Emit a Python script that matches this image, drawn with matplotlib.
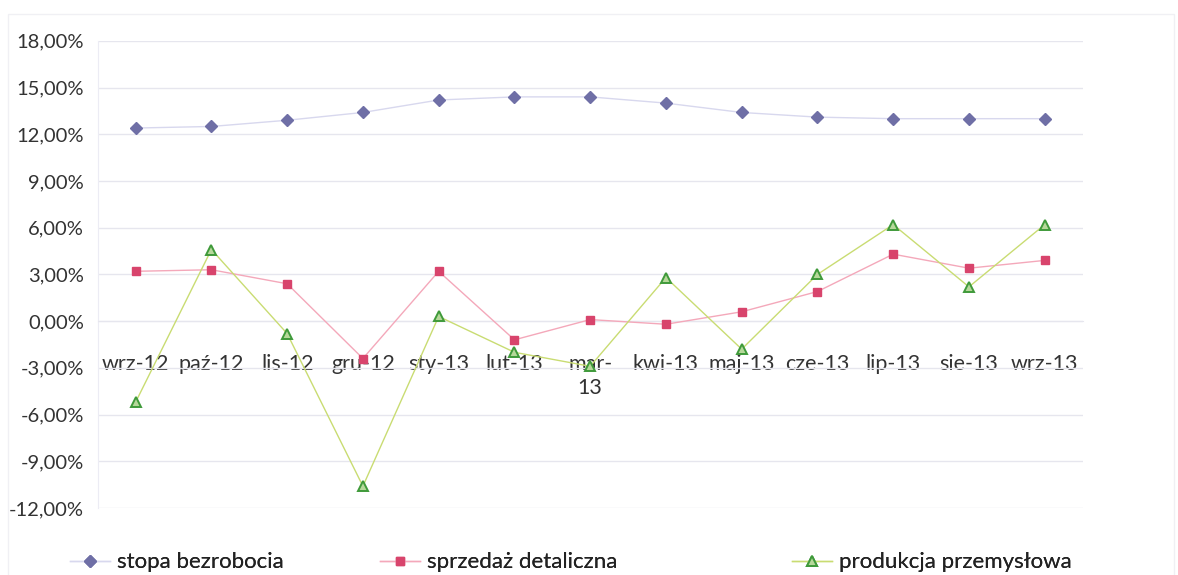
import matplotlib.pyplot as plt
from matplotlib.ticker import FuncFormatter, MultipleLocator
from matplotlib.patches import Rectangle

months = ["wrz-12", "paź-12", "lis-12", "gru-12", "sty-13", "lut-13", "mar-\n13",
          "kwi-13", "maj-13", "cze-13", "lip-13", "sie-13", "wrz-13"]
stopa_bezrobocia = [12.4, 12.5, 12.9, 13.4, 14.2, 14.4, 14.4, 14.0, 13.4, 13.1, 13.0, 13.0, 13.0]
sprzedaz_detaliczna = [3.2, 3.3, 2.4, -2.4, 3.2, -1.2, 0.1, -0.2, 0.6, 1.9, 4.3, 3.4, 3.9]
produkcja_przemyslowa = [-5.2, 4.6, -0.8, -10.6, 0.3, -2.0, -2.9, 2.8, -1.8, 3.0, 6.2, 2.2, 6.2]

plt.rcParams["font.family"] = ["Lato", "DejaVu Sans"]

fig = plt.figure(figsize=(11.78, 5.75), dpi=100)
ax = fig.add_axes([0.083, 0.1165, 0.836, 0.8125])

x = range(len(months))
l1, = ax.plot(x, stopa_bezrobocia, color="#d8d8ee", lw=1, marker="D", ms=6,
              mfc="#6f6fa6", mec="#6f6fa6", label="stopa bezrobocia", zorder=3)
l2, = ax.plot(x, sprzedaz_detaliczna, color="#f4a8ba", lw=1, marker="s", ms=6,
              mfc="#d8446c", mec="#d8446c", label="sprzedaż detaliczna", zorder=3)
l3, = ax.plot(x, produkcja_przemyslowa, color="#c9dc72", lw=1, marker="^", ms=7,
              mfc="#b6d89a", mec="#3f9a3a", mew=1.4, label="produkcja przemysłowa", zorder=3)

ax.set_ylim(-12, 18)
ax.set_xlim(-0.5, len(months) - 0.5)
ax.yaxis.set_major_locator(MultipleLocator(3))
ax.yaxis.set_major_formatter(FuncFormatter(lambda v, p: f"{v:.2f}%".replace(".", ",")))
ax.grid(axis="y", color="#e6e6ee", lw=1)
ax.set_axisbelow(True)

ax.set_xticks(list(x))
ax.set_xticklabels(months, va="top", linespacing=1.5)
ax.spines["bottom"].set_position(("data", 0))
ax.spines["bottom"].set_color("#e6e6ee")
ax.spines["left"].set_color("#ececf4")
ax.spines["top"].set_visible(False)
ax.spines["right"].set_visible(False)
ax.tick_params(axis="x", length=0, pad=24, labelsize=15.5, labelcolor="#333333")
ax.tick_params(axis="y", length=0, pad=10, labelsize=14.5, labelcolor="#333333")

# legend entries placed one by one, as in the original layout
for line, x_px in [(l1, 70), (l2, 380), (l3, 792)]:
    leg = fig.legend(handles=[line], loc="center left", bbox_to_anchor=(x_px / 1178, 0.022),
                     frameon=False, fontsize=16, handlelength=1.8, handletextpad=0.3,
                     borderpad=0, borderaxespad=0, labelcolor="#222222")
    fig.add_artist(leg)

fig.patches.append(Rectangle((0.007, -0.01), 0.99, 0.985, transform=fig.transFigure,
                             fill=False, ec="#f0f0f4", lw=1))

fig.savefig("out.png", dpi=100, facecolor="white")
